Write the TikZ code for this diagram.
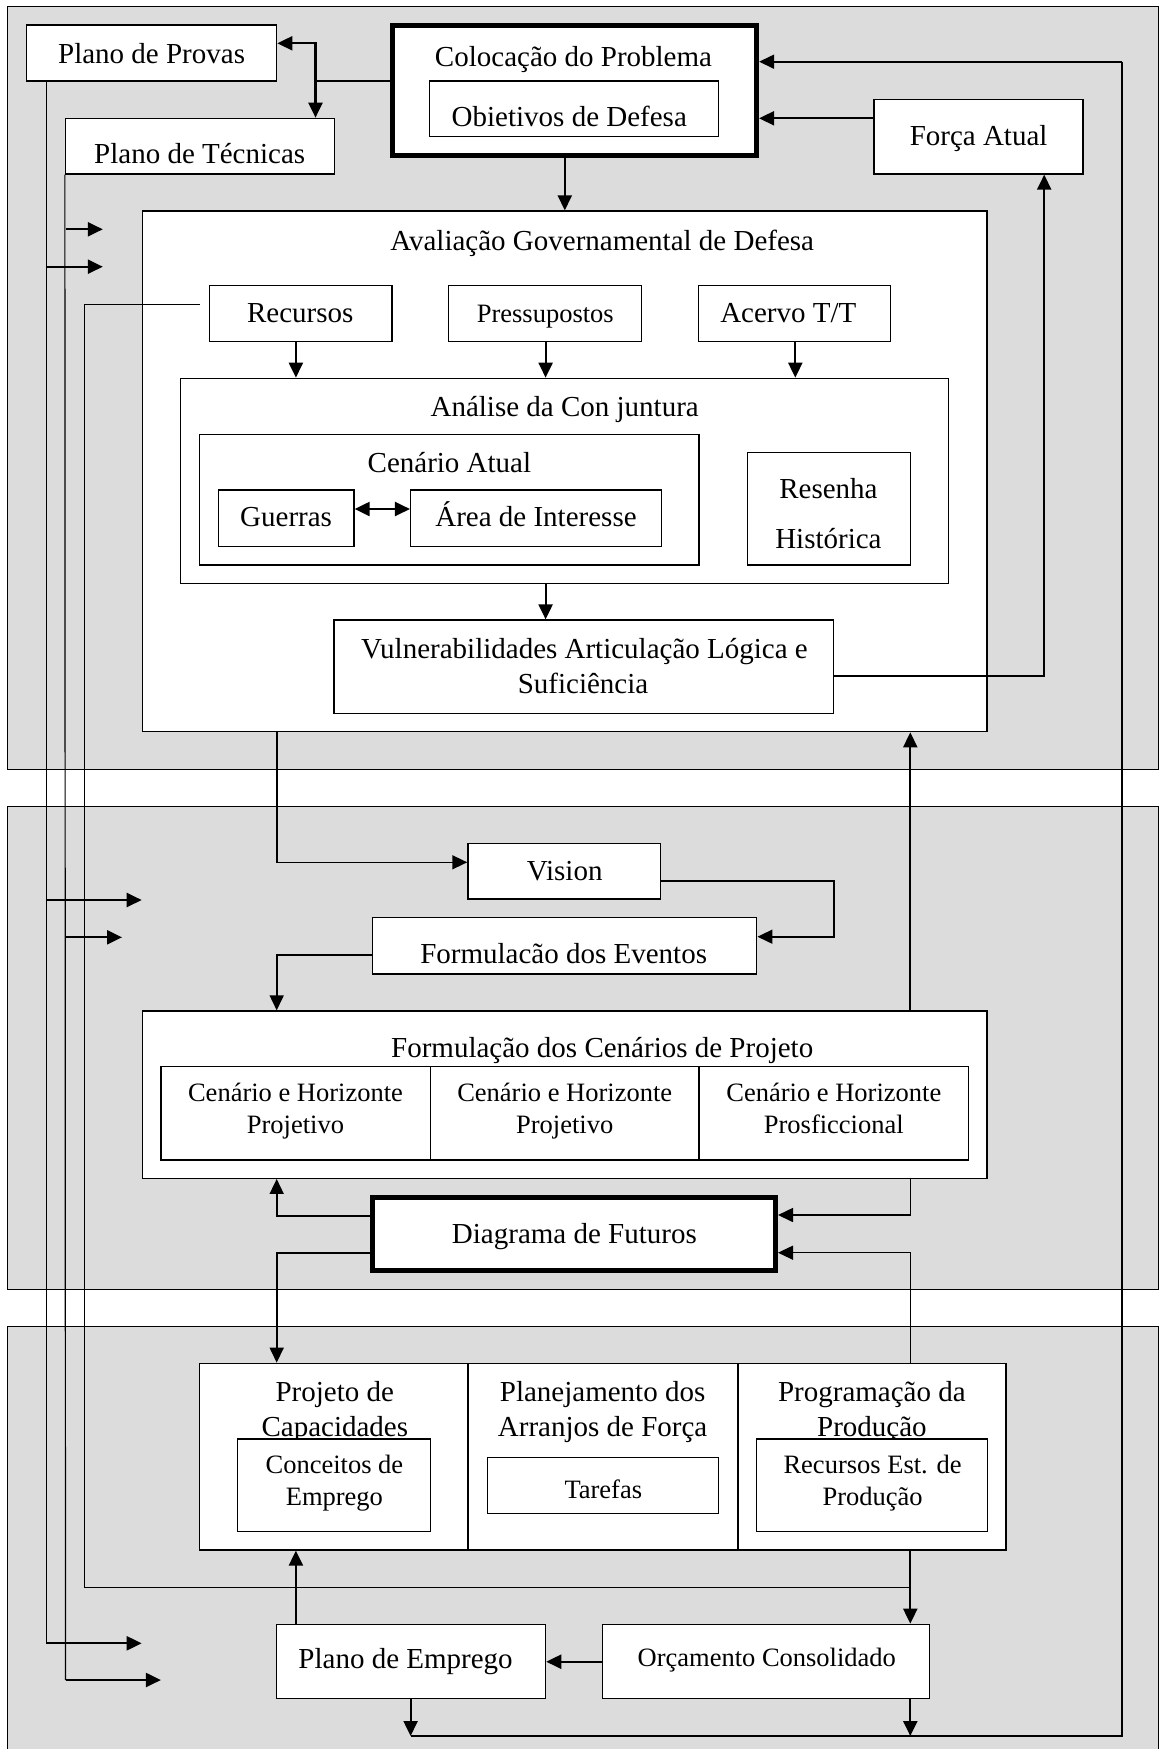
\documentclass[tikz,border=0pt]{standalone}
\usepackage{fontspec}
\setmainfont{Liberation Serif}
\usetikzlibrary{fit,arrows.meta}
\definecolor{panelgray}{RGB}{220,220,220}
\begin{document}
\begin{tikzpicture}[x=1pt,y=-1pt,
  panel/.style={draw, line width=1.2pt, fill=panelgray},
  box/.style={draw, line width=1.3pt, fill=white, inner sep=0pt},
  thickbox/.style={draw, line width=5pt, fill=white, inner sep=0pt},
  txt/.style={font=\fontsize{29}{34}\selectfont, anchor=base, inner sep=0pt},
  stxt/.style={font=\fontsize{26.5}{30}\selectfont, anchor=base, inner sep=0pt},
  thinln/.style={line width=1.2pt},
  medln/.style={line width=1.6pt},
  tip/.style={-{Triangle[length=15pt,width=14pt]}},
  arr/.style={line width=2.2pt, tip},
  marr/.style={line width=1.6pt, tip},
  tarr/.style={line width=1.2pt, tip}
]
\fill[white] (0,0) rectangle (1160,1749);
\useasboundingbox (0,0) rectangle (1160,1749);

% panels
\node[panel, inner sep=0pt, fit={(7.4,6.7) (1158.5,769.3)}] (p1) {};
\node[panel, inner sep=0pt, fit={(7.4,806.7) (1158.5,1289.3)}] (p2) {};
\node[panel, inner sep=0pt, fit={(7.4,1326.7) (1158.5,1760)}] (p3) {};

% top boxes
\node[box, fit={(26.6,25) (276.7,81)}] (provas) {};
\node[thickbox, fit={(392.6,25.8) (756.6,155.8)}] (coloc) {};
\node[box, fit={(429.8,81) (718.7,136.7)}] (obiet) {};
\node[box, fit={(65.5,118.3) (334.8,174)}] (tecn) {};
\node[box, fit={(874.1,99.3) (1083.1,174)}] (forca) {};

% avaliacao
\node[box, fit={(142.4,211) (986.9,731.7)}] (aval) {};
\node[box, fit={(209.7,285.7) (392.1,341.7)}] (recur) {};
\node[box, fit={(448.7,285.7) (641.8,341.7)}] (press) {};
\node[box, fit={(698.4,285.7) (890.7,341.7)}] (acervo) {};
\node[box, fit={(180.5,378.3) (948.8,583.3)}] (analise) {};
\node[box, fit={(199.7,434.3) (699.1,565)}] (cenatual) {};
\node[box, fit={(218.2,490) (354,546.7)}] (guerras) {};
\node[box, fit={(410.6,490) (661.4,546.7)}] (area) {};
\node[box, fit={(747.2,452.7) (910.3,565)}] (resenha) {};
\node[box, fit={(334,620) (833.8,713.3)}] (vuln) {};

% middle
\node[box, fit={(467.9,843.3) (660.6,899)}] (vision) {};
\node[box, fit={(372.5,917.7) (756.8,974)}] (eventos) {};
\node[box, fit={(142.4,1011) (986.9,1178.3)}] (cenproj) {};
\node[box, fit={(160.9,1066.7) (430.2,1160)}] (ch1) {};
\node[box, fit={(430.2,1066.7) (699.1,1160)}] (ch2) {};
\node[box, fit={(699.1,1066.7) (968.4,1160)}] (ch3) {};
\node[thickbox, fit={(372.7,1197.5) (775.5,1270.8)}] (diag) {};

% bottom
\node[box, fit={(199.7,1363.3) (467.9,1550)}] (col1) {};
\node[box, fit={(467.9,1363.3) (738,1550)}] (col2) {};
\node[box, fit={(738,1363.3) (1006.1,1550)}] (col3) {};
\node[txt] (t-proj1) at (334.8,1401.7) {Projeto de};
\node[txt] (t-proj2) at (334.8,1436.7) {Capacidades};
\node[txt] (t-plan1) at (602.6,1401.7) {Planejamento dos};
\node[txt] (t-plan2) at (602.6,1436.7) {Arranjos de Força};
\node[txt] (t-prog1) at (871.9,1401.7) {Programação da};
\node[txt] (t-prog2) at (871.9,1436.7) {Produção};
\node[box, fit={(237.8,1439) (430.2,1531.7)}] (conceitos) {};
\node[box, fit={(487.5,1457.3) (718.7,1513.3)}] (tarefas) {};
\node[box, fit={(756.4,1439) (987.6,1531.7)}] (recest) {};
\node[box, fit={(276.3,1624.3) (545.6,1698.3)}] (pemprego) {};
\node[box, fit={(602.2,1624.3) (929.6,1698.3)}] (orc) {};

% texts
\node[txt] (t-provas) at (151.6,63.3) {Plano de Provas};
\node[txt] (t-coloc) at (573.5,66.7) {Colocação do Problema};
\node[txt] (t-obiet) at (569.3,126.7) {Obietivos de Defesa};
\node[txt] (t-tecn) at (199.7,163.3) {Plano de Técnicas};
\node[txt] (t-forca) at (978.6,145) {Força Atual};
\node[txt] (t-aval) at (602.2,250) {Avaliação Governamental de Defesa};
\node[txt] (t-recur) at (300.2,322.7) {Recursos};
\node[stxt] (t-press) at (545.3,322.2) {Pressupostos};
\node[txt] (t-acervo) at (788.3,322.7) {Acervo T/T};
\node[txt] (t-analise) at (564.7,416.7) {Análise da Con juntura};
\node[txt] (t-cenatual) at (449.4,472.7) {Cenário Atual};
\node[txt] (t-guerras) at (286.1,526.7) {Guerras};
\node[txt] (t-area) at (536,526.7) {Área de Interesse};
\node[txt] (t-res1) at (828.4,498.3) {Resenha};
\node[txt] (t-res2) at (828.4,548.3) {Histórica};
\node[txt] (t-vuln1) at (584.4,658.3) {Vulnerabilidades Articulação Lógica e};
\node[txt] (t-vuln2) at (583,693.3) {Suficiência};
\node[txt] (t-vision) at (564.7,880) {Vision};
\node[txt] (t-eventos) at (563.7,963.3) {Formulacão dos Eventos};
\node[txt] (t-cenproj) at (602.2,1057.3) {Formulação dos Cenários de Projeto};
\node[stxt] (t-ch1a) at (295.5,1101.7) {Cenário e Horizonte};
\node[stxt] (t-ch1b) at (295.5,1133.3) {Projetivo};
\node[stxt] (t-ch2a) at (564.7,1101.7) {Cenário e Horizonte};
\node[stxt] (t-ch2b) at (564.7,1133.3) {Projetivo};
\node[stxt] (t-ch3a) at (833.8,1101.7) {Cenário e Horizonte};
\node[stxt] (t-ch3b) at (833.8,1133.3) {Prosficcional};
\node[txt] (t-diag) at (574.4,1243.3) {Diagrama de Futuros};
\node[stxt] (t-conc1) at (334.4,1473.3) {Conceitos de};
\node[stxt] (t-conc2) at (334.4,1505) {Emprego};
\node[stxt] (t-tarefas) at (603.3,1498.3) {Tarefas};
\node[stxt] (t-rec1) at (872.6,1473.3) {Recursos Est. de};
\node[stxt] (t-rec2) at (872.6,1505) {Produção};
\node[txt] (t-pemp) at (405.6,1668.3) {Plano de Emprego};
\node[stxt] (t-orc) at (766.8,1666.7) {Orçamento Consolidado};

% connectors: top
\coordinate (j1) at (315.5,81);
\draw[thinln] (coloc.west |- j1) -- (j1);
\draw[arr] (j1) |- (provas.east |- 0,43.3);
\draw[arr] (j1) -- (j1 |- tecn.north);
\draw[arr] (564.8,0 |- coloc.south) -- (564.8,0 |- aval.north);
\draw[arr] (forca.west |- 0,118.3) -- (coloc.east |- 0,118.3);
\draw[arr] (vuln.east |- 0,676) -| (1044.2,0 |- forca.south);
\draw[arr] (295.9,0 |- recur.south) -- (295.9,0 |- analise.north);
\draw[arr] (545.6,0 |- press.south) -- (545.6,0 |- analise.north);
\draw[arr] (795.3,0 |- acervo.south) -- (795.3,0 |- analise.north);
\draw[line width=2.2pt, {Triangle[length=15pt,width=14pt]}-{Triangle[length=15pt,width=14pt]}]
  (guerras.east |- 0,509) -- (area.west |- 0,509);
\draw[arr] (545.6,0 |- analise.south) -- (545.6,0 |- vuln.north);
\draw[thinln, shorten <=9pt] (recur.west |- 0,304.3) -| (84.3,1587.3) -- (910.3,1587.3);

% middle connectors
\draw[marr] (276.7,0 |- aval.south) |- (vision.west |- 0,862.3);
\draw[marr] (vision.east |- 0,880.7) -| (833.8,936.7) -- (eventos.east |- 0,936.7);
\draw[marr] (eventos.west |- 0,955) -| (276.7,0 |- cenproj.north);
\draw[arr] (910.3,0 |- cenproj.north) -- (910.3,0 |- aval.south);
\draw[marr] (910.3,0 |- cenproj.south) |- (diag.east |- 0,1215);
\draw[tarr] (910.3,0 |- col3.north) |- (diag.east |- 0,1252.7);
\draw[marr] (diag.west |- 0,1216) -| (276.7,0 |- cenproj.south);
\draw[marr] (diag.west |- 0,1252.7) -| (276.7,0 |- col1.north);

% bottom connectors
\draw[arr] (295.9,0 |- pemprego.north) -- (295.9,0 |- col1.south);
\draw[arr] (910.3,0 |- col3.south) -- (910.3,0 |- orc.north);
\draw[arr] (orc.west |- 0,1661.7) -- (pemprego.east |- 0,1661.7);
\coordinate (b1) at (410.6,1736);
\coordinate (b2) at (910.3,1736);
\draw[arr] (410.6,0 |- pemprego.south) -- (b1);
\draw[arr] (910.3,0 |- orc.south) -- (b2);
\draw[thinln] (b1) -| (1121.9,61.7);
\draw[marr] (1121.9,61.7) -- (coloc.east |- 0,61.7);

% left long lines
\coordinate (l1) at (46.2,1643.3);
\coordinate (l2) at (65.5,1680);
\draw[thinln] (46.2,0 |- provas.south) -- (l1);
\draw[thinln] (tecn.south west) -- (l2);
\draw[arr] (l1) -- (141.7,1643.3);
\draw[arr] (l2) -- (160.9,1680);
\draw[arr] (46.2,266.7) -- (102.8,266.7);
\draw[arr] (65.5,229.3) -- (102.8,229.3);
\draw[arr] (46.2,900) -- (141.7,900);
\draw[arr] (65.5,937.3) -- (122,937.3);
\end{tikzpicture}
\end{document}
